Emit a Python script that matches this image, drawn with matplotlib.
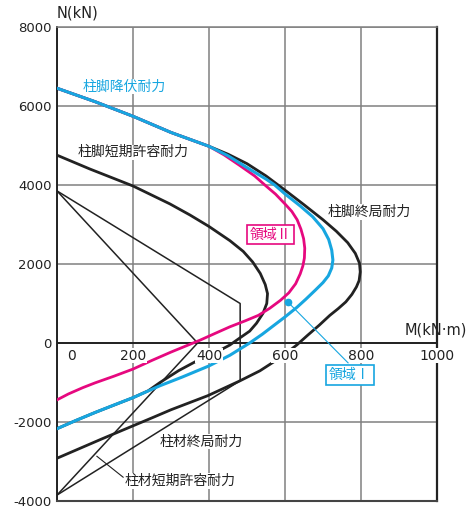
import matplotlib
matplotlib.use('Agg')
import matplotlib.pyplot as plt
from matplotlib import rcParams

rcParams['axes.unicode_minus'] = False
rcParams['font.family'] = ['DejaVu Sans', 'Noto Sans CJK JP']

JP = ['Noto Sans CJK JP', 'DejaVu Sans']
CYAN = '#17a6e0'
MAGENTA = '#e6087f'
BLACK = '#222222'

# 柱脚終局耐力 (thick black, outer loop)
ult_m = [0, 100, 200, 300, 400, 450, 500, 550, 600, 650, 700, 735, 765, 785, 796, 798, 795, 788, 776, 760,
         740, 718, 690, 660, 631, 600, 570, 534, 481, 397, 300, 252, 120, 0]
ult_n = [6450, 6110, 5740, 5330, 4980, 4780, 4540, 4230, 3870, 3500, 3120, 2830, 2540, 2270, 2020, 1800, 1580, 1420, 1230, 1040,
         870, 700, 450, 200, -50, -280, -480, -704, -960, -1333, -1690, -1887, -2420, -2918]

# 柱脚降伏耐力 (cyan)
yld_m = [0, 100, 200, 300, 400, 450, 500, 550, 573, 600, 640, 673, 700, 715, 723, 726, 723, 714, 700, 680,
         655, 631, 600, 570, 540, 507, 455, 400, 330, 271, 200, 150, 100, 50, 0]
yld_n = [6450, 6110, 5740, 5330, 4980, 4740, 4440, 4150, 4000, 3774, 3470, 3195, 2893, 2620, 2350, 2100, 1900, 1700, 1530, 1340,
         1110, 900, 660, 440, 220, 0, -310, -580, -860, -1082, -1384, -1570, -1760, -1960, -2170]

# 領域II boundary (magenta)
reg2_m = [0, 100, 200, 300, 400, 440, 480, 520, 547, 575, 600, 618, 632, 642, 649, 652, 651, 647, 640, 628,
          610, 588, 560, 530, 495, 455, 420, 376, 300, 250, 200, 150, 100, 68, 30, 0]
reg2_n = [6450, 6110, 5740, 5330, 4980, 4760, 4500, 4230, 4000, 3770, 3520, 3330, 3120, 2880, 2640, 2400, 2150, 1950, 1750, 1500,
          1270, 1080, 880, 700, 560, 410, 260, 70, -230, -440, -660, -840, -1010, -1130, -1290, -1440]

# 柱脚短期許容耐力 (thick black, inner)
sht_m = [0, 87, 200, 297, 350, 400, 455, 490, 515, 535, 548, 554, 552, 542, 525, 507, 480, 455, 420, 368,
         320, 271, 240, 200, 100, 50, 0]
sht_n = [4755, 4403, 3975, 3522, 3240, 2950, 2591, 2320, 2050, 1760, 1480, 1250, 1000, 750, 500, 300, 120, -50, -230, -453,
         -700, -1000, -1210, -1384, -1760, -1960, -2170]

# 柱材短期許容耐力 (thin black)
col_a_m = [0, 370, 0]
col_a_n = [3850, 0, -3850]
col_b_m = [0, 482, 482, 0]
col_b_n = [3850, 1000, -955, -3850]

xticks = [0, 200, 400, 600, 800, 1000]
yticks = [-4000, -2000, 0, 2000, 4000, 6000, 8000]

fig = plt.figure(figsize=(4.66, 5.09), dpi=100)
ax = fig.add_axes([57 / 466, 8 / 509, 380 / 466, 474 / 509])
ax.set_xlim(0, 1000)
ax.set_ylim(-4000, 8000)

ax.set_xticks(xticks)
ax.set_yticks(yticks)
ax.set_xticklabels([])
ax.set_yticklabels([str(v) for v in yticks], fontsize=9.5, color='#222222')
ax.tick_params(length=0)
ax.tick_params(axis='y', pad=4)
ax.grid(True, color='#808080', linewidth=1.1, zorder=0)
ax.set_axisbelow(True)

ax.spines['left'].set_color('#222222')
ax.spines['left'].set_linewidth(1.4)
ax.spines['right'].set_color('#222222')
ax.spines['right'].set_linewidth(1.6)
ax.spines['bottom'].set_color('#444444')
ax.spines['bottom'].set_linewidth(1.5)
ax.spines['top'].set_color('#808080')
ax.spines['top'].set_linewidth(1.1)

ax.axhline(0, color='#222222', linewidth=1.4, zorder=1)

ax.plot(col_a_m, col_a_n, color=BLACK, linewidth=1.1, zorder=2)
ax.plot(col_b_m, col_b_n, color=BLACK, linewidth=1.1, zorder=2)
ax.plot(ult_m, ult_n, color=BLACK, linewidth=2.0, zorder=3, solid_joinstyle='round')
ax.plot(sht_m, sht_n, color=BLACK, linewidth=2.0, zorder=3, solid_joinstyle='round')
ax.plot(reg2_m, reg2_n, color=MAGENTA, linewidth=2.0, zorder=4, solid_joinstyle='round')
ax.plot(yld_m, yld_n, color=CYAN, linewidth=2.2, zorder=5, solid_joinstyle='round')

# x tick labels sit just under the N=0 line
for v in xticks:
    dx = 7 if v == 0 else 0
    ax.annotate(str(v), (v, 0), xytext=(dx, -9), textcoords='offset points',
                ha='left' if v == 0 else 'center', va='center', fontsize=10, color='#222222',
                bbox=dict(boxstyle='square,pad=0.05', fc='white', ec='none'), zorder=6)

wb = dict(boxstyle='square,pad=0.05', fc='white', ec='none')
ax.text(68, 6491, '柱脚降伏耐力', family=JP, fontsize=10, color=CYAN, va='center', bbox=wb, zorder=6)
ax.text(53, 4830, '柱脚短期許容耐力', family=JP, fontsize=10, color='#222222', va='center', bbox=wb, zorder=6)
ax.text(713, 3321, '柱脚終局耐力', family=JP, fontsize=10, color='#222222', va='center', bbox=wb, zorder=6)
ax.text(271, -2490, '柱材終局耐力', family=JP, fontsize=10, color='#222222', va='center', bbox=wb, zorder=6)
ax.text(179, -3497, '柱材短期許容耐力', family=JP, fontsize=10, color='#222222', va='center', bbox=wb, zorder=6)
ax.plot([105, 174], [-2868, -3397], color=BLACK, linewidth=0.8, zorder=6)

ax.text(561, 2742, '領域Ⅱ', family=JP, fontsize=10, color=MAGENTA, ha='center', va='center', zorder=7,
        bbox=dict(boxstyle='square,pad=0.2', fc='white', ec=MAGENTA, lw=1.2))
ax.plot([608, 766], [1032, -503], color=CYAN, linewidth=0.8, zorder=6)
ax.plot([608], [1032], 'o', color=CYAN, markersize=4.5, zorder=7)
ax.text(771, -805, '領域Ⅰ', family=JP, fontsize=10, color=CYAN, ha='center', va='center', zorder=7,
        bbox=dict(boxstyle='square,pad=0.2', fc='white', ec=CYAN, lw=1.2))

ax.text(915, 327, 'M(kN·m)', fontsize=10.5, color='#222222', va='center', clip_on=False, zorder=7)
ax.annotate('N(kN)', (0, 8000), xytext=(0, 10), textcoords='offset points',
            fontsize=10.5, color='#222222', ha='left', va='center', annotation_clip=False)

fig.savefig('out.png', dpi=100)
